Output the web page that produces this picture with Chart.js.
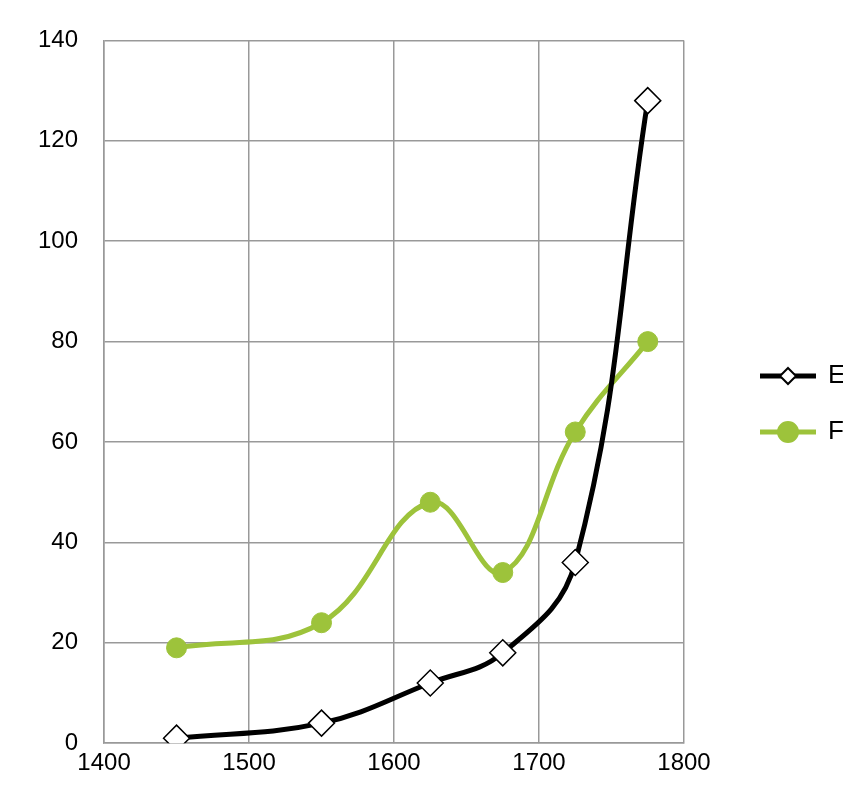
<!DOCTYPE html>
<html>
<head>
<meta charset="utf-8">
<script src="https://cdn.jsdelivr.net/npm/chart.js@4/dist/chart.umd.min.js"></script>
<style>
  html, body { margin: 0; padding: 0; background: #fff; overflow: hidden; }
  #wrap { width: 843px; height: 800px; }
</style>
</head>
<body>
<div id="wrap"><canvas id="c"></canvas></div>
<script>
// years on x, values on y
const years = [1450, 1550, 1625, 1675, 1725, 1775];
const seriesE = [1, 4, 12, 18, 36, 128];
const seriesF = [19, 24, 48, 34, 62, 80];
const seriesNames = ['England', 'France'];

const toPts = vals => years.map((x, i) => ({ x, y: vals[i] }));
const tickFont = { size: 24, family: '"Liberation Sans", Arial, sans-serif' };

// legend drawn by hand so it runs off the right edge like the original
const sideLegend = {
  id: 'sideLegend',
  afterDraw(chart) {
    const ctx = chart.ctx;
    const x0 = 760, rowH = 56, y0 = 376;
    ctx.save();
    chart.data.datasets.forEach((ds, i) => {
      const y = y0 + i * rowH;
      ctx.strokeStyle = ds.borderColor;
      ctx.lineWidth = 5;
      ctx.beginPath();
      ctx.moveTo(x0, y);
      ctx.lineTo(x0 + 56, y);
      ctx.stroke();
      ctx.fillStyle = ds.pointBackgroundColor;
      ctx.strokeStyle = ds.pointBorderColor;
      ctx.lineWidth = 2;
      ctx.beginPath();
      if (ds.pointStyle === 'rectRot') {
        const r = 8;
        ctx.moveTo(x0 + 28, y - r); ctx.lineTo(x0 + 28 + r, y);
        ctx.lineTo(x0 + 28, y + r); ctx.lineTo(x0 + 28 - r, y);
        ctx.closePath();
      } else {
        ctx.arc(x0 + 28, y, 10, 0, Math.PI * 2);
      }
      ctx.fill(); ctx.stroke();
      ctx.fillStyle = '#000';
      ctx.font = '26px "Liberation Sans", Arial, sans-serif';
      ctx.textBaseline = 'middle';
      ctx.fillText(ds.label, x0 + 68, y);
    });
    ctx.restore();
  }
};

new Chart(document.getElementById('c'), {
  type: 'scatter',
  data: {
    datasets: [
      {
        label: seriesNames[0],
        data: toPts(seriesE),
        showLine: true,
        tension: 0.4,
        borderColor: '#000',
        borderWidth: 5,
        pointStyle: 'rectRot',
        pointRadius: 13,
        pointBackgroundColor: '#fff',
        pointBorderColor: '#000',
        pointBorderWidth: 1.5
      },
      {
        label: seriesNames[1],
        data: toPts(seriesF),
        showLine: true,
        tension: 0.4,
        borderColor: '#9dc33b',
        borderWidth: 5,
        pointStyle: 'circle',
        pointRadius: 10,
        pointBackgroundColor: '#9dc33b',
        pointBorderColor: '#9dc33b',
        pointBorderWidth: 1
      }
    ]
  },
  options: {
    responsive: true,
    maintainAspectRatio: false,
    animation: false,
    layout: { padding: { top: 6, right: 159, left: 12, bottom: 16 } },
    plugins: { legend: { display: false }, tooltip: { enabled: false } },
    scales: {
      x: {
        type: 'linear', min: 1400, max: 1800,
        ticks: { stepSize: 100, color: '#000', font: tickFont, padding: 6, callback: v => String(v) },
        grid: { color: '#999', lineWidth: 1.5, tickLength: 0 },
        border: { color: '#999', width: 1.5 }
      },
      y: {
        min: 0, max: 140,
        ticks: { stepSize: 20, color: '#000', font: tickFont, padding: 26, callback: v => String(v) },
        grid: { color: '#999', lineWidth: 1.5, tickLength: 0 },
        border: { color: '#999', width: 1.5 }
      }
    }
  },
  plugins: [sideLegend]
});
</script>
</body>
</html>
